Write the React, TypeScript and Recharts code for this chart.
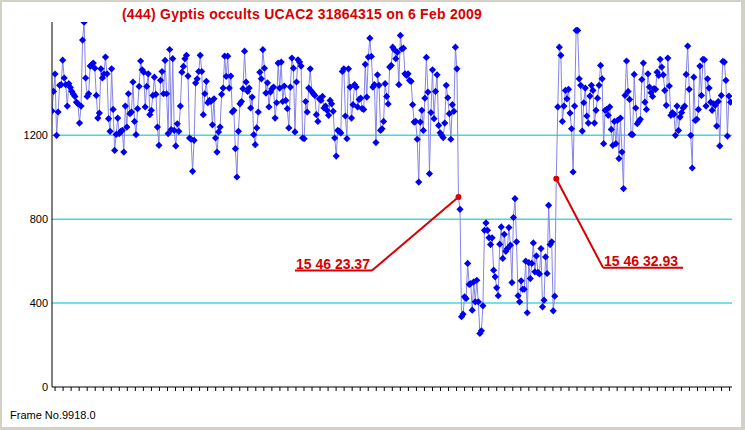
import React from "react";
import { LineChart, Line, XAxis, YAxis, CartesianGrid, ReferenceLine, ReferenceDot } from "recharts";

// Light curve: flux per integrated frame
const baselineBefore = [
  1316,1409,1492,1200,1311,1438,1441,1558,1473,1441,
  1339,1446,1428,1409,1396,1385,1358,1350,1258,1339,
  1654,1739,1473,1385,1398,1530,1536,1544,1520,1390,
  1282,1306,1517,1473,1492,1573,1493,1279,1219,1517,
  1323,1128,1204,1282,1208,1219,1223,1120,1339,1239,
  1398,1303,1311,1454,1266,1203,1327,1433,1554,1512,
  1501,1335,1433,1493,1298,1319,1390,1477,1395,1239,
  1152,1462,1504,1398,1557,1398,1208,1609,1227,1565,
  1223,1149,1255,1219,1339,1501,1528,1565,1581,1482,
  1187,1181,1028,1176,1449,1469,1504,1581,1504,1298,
  1398,1457,1355,1366,1361,1250,1374,1187,1120,1216,
  1239,1395,1425,1577,1481,
  1577,1425,1482,1311,1319,1136,1001,1219,1350,1361,
  1422,1601,1454,1409,1425,1330,1382,1203,1155,1235,
  1311,1501,1469,1608,1520,1401,1450,1335,1406,1422,
  1430,1282,1355,1544,1425,1549,1361,1435,1366,1327,
  1235,1430,1568,1520,1216,1454,1560,1549,1530,1187,
  1184,1361,1311,1425,1517,1409,1398,1390,1298,1266,
  1374,1366,1385,1330,1339,1319,1295,1366,1350,1314,
  1187,1101,1223,1219,1211,1504,1517,1292,1184,1517,
  1430,1282,1346,1441,1430,1335,1371,1377,1327,1323,
  1538,1382,1573,1663,1576,1430,1441,1165,1488,1438,
  1223,1231,1266,1446,1385,1349,1525,1533,1620,1608,
  1565,1596,
  1441,1676,1612,1615,1493,1485,1493,1462,1457,1346,
  1263,1266,1181,977,1263,1319,1223,1377,1571,1406,
  1017,1308,1512,1279,1409,1488,1247,1212,1200,1189,
  1258,1438,1379,1303,1181,1346,1314,1620,1517,
];
const disappearanceValue = 906;
const occultedValues = [
  847,
  335,347,430,422,589,489,493,366,501,406,
  509,406,255,268,387,747,782,747,712,679,
  711,557,525,473,435,681,763,613,728,647,
  660,760,676,498,808,898,692,435,406,506,
  466,466,600,354,593,517,589,687,549,625,
  546,539,660,382,414,620,541,866,679,692,
  363,433,
];
const reappearanceValue = 993;
const baselineAfter = [
  1335,1620,1581,1266,1339,1414,
  1374,1419,1306,1231,1025,1339,1700,1700,1469,1438,
  1220,1355,1425,1292,1258,1387,1438,1414,1258,1319,
  1377,1438,1533,1469,1160,1319,1323,1295,1335,1228,
  1152,1266,1160,1271,1089,1282,1120,946,1390,1554,
  1409,1371,1204,1203,1490,1330,1255,1266,1276,1466,
  1544,1358,1323,1493,1430,1403,1385,1422,1419,1501,
  1485,1562,1525,1488,1414,1343,1568,1435,1295,1308,
  1300,1200,1339,1223,1287,1308,1330,1339,1490,1625,
  1419,1200,1044,1477,1271,1276,1323,1530,1390,1562,
  1560,1339,1469,1425,1358,1319,1350,1343,1244,1361,
  1149,1390,1552,1549,1462,1196,1387,1358,
];
const eventTimes = ["15 46 23.37", "15 46 32.93"];
const yTicks = [0, 400, 800, 1200];
const gridValues = [400, 800, 1200];
const titleText = "(444) Gyptis occults UCAC2 31864315 on 6 Feb 2009";
const footerText = "Frame No.9918.0";

const fluxValues = [
  ...baselineBefore,
  disappearanceValue,
  ...occultedValues,
  reappearanceValue,
  ...baselineAfter,
];
const data = fluxValues.map((v, i) => ({ frame: i, flux: v }));
const dIdx = baselineBefore.length;
const rIdx = dIdx + 1 + occultedValues.length;
const N = fluxValues.length;
const xTicks = Array.from({ length: 85 }, (_, k) => 2 + k * 5.255);

// annotation label anchors (data coordinates)
const ann = [
  { idx: dIdx, val: disappearanceValue, text: eventTimes[0], x0: 159, x1: 209.4, y: 555, side: "left" },
  { idx: rIdx, val: reappearanceValue, text: eventTimes[1], x0: 360.6, x1: 413, y: 569, side: "right" },
];

const RED = "#d80000";
const FONT = "'Liberation Sans', Arial, sans-serif";

const renderDot = (props: any) => {
  const { cx, cy, index } = props;
  if (cx == null || cy == null) return <g key={`d${index}`} />;
  if (index === dIdx || index === rIdx)
    return <circle key={`d${index}`} cx={cx} cy={cy} r={3} fill={RED} />;
  const s = 3.6;
  return (
    <polygon
      key={`d${index}`}
      points={`${cx},${cy - s} ${cx + s},${cy} ${cx},${cy + s} ${cx - s},${cy}`}
      fill="#0000ee"
    />
  );
};

const EmptyTick = () => <g />;

export default function App() {
  return (
    <div style={{ position: "absolute", left: 0, top: 0, width: 745, height: 430, background: "#d4d0c8", overflow: "hidden" }}>
      <div style={{ position: "absolute", left: 2, top: 2, width: 739, height: 425, background: "#ffffff" }} />
      <div
        style={{
          position: "absolute", left: 0, top: 6, width: 604, textAlign: "center",
          fontFamily: FONT, fontWeight: "bold", fontSize: 14, lineHeight: "16px",
          letterSpacing: 0.25, color: RED, whiteSpace: "nowrap",
        }}
      >
        {titleText}
      </div>
      <div style={{ position: "absolute", left: 10, top: 409, fontFamily: FONT, fontSize: 11, lineHeight: "13px", color: "#000" }}>
        {footerText}
      </div>
      <div style={{ position: "absolute", left: 0, top: 0 }}>
        <LineChart width={745} height={430} data={data} margin={{ top: 22, right: 13, bottom: 0, left: 0 }}>
          <CartesianGrid vertical={false} horizontalValues={gridValues} stroke="#45d8e0" strokeWidth={1.5} />
          <XAxis
            type="number"
            dataKey="frame"
            domain={[0, N]}
            allowDataOverflow
            ticks={xTicks}
            interval={0}
            tick={EmptyTick}
            tickSize={4}
            height={43}
            axisLine={{ stroke: "#000" }}
            tickLine={{ stroke: "#000" }}
          />
          <YAxis
            type="number"
            domain={[0, 1740]}
            allowDataOverflow
            ticks={yTicks}
            interval={0}
            width={52}
            tickLine={false}
            tickSize={3}
            tickMargin={1}
            axisLine={{ stroke: "#000" }}
            tick={{ fill: "#000", fontSize: 11, fontFamily: FONT }}
          />
          <Line
            type="linear"
            dataKey="flux"
            stroke="#8585e6"
            strokeWidth={1}
            dot={renderDot}
            activeDot={false}
            isAnimationActive={false}
          />
          {ann.map((a, i) => (
            <ReferenceLine
              key={`s${i}`}
              segment={[{ x: a.idx, y: a.val }, { x: a.side === "left" ? a.x1 : a.x0, y: a.y }]}
              stroke={RED}
              strokeWidth={2}
            />
          ))}
          {ann.map((a, i) => (
            <ReferenceLine
              key={`u${i}`}
              segment={[{ x: a.x0, y: a.y }, { x: a.x1, y: a.y }]}
              stroke={RED}
              strokeWidth={2}
            />
          ))}
          {ann.map((a, i) => (
            <ReferenceDot
              key={`t${i}`}
              x={a.x0}
              y={a.y}
              r={0}
              shape={(p: any) => (
                <text
                  x={p.cx + 1}
                  y={p.cy - 2}
                  fill={RED}
                  fontFamily={FONT}
                  fontWeight="bold"
                  fontSize={14}
                >
                  {a.text}
                </text>
              )}
            />
          ))}
        </LineChart>
      </div>
    </div>
  );
}
